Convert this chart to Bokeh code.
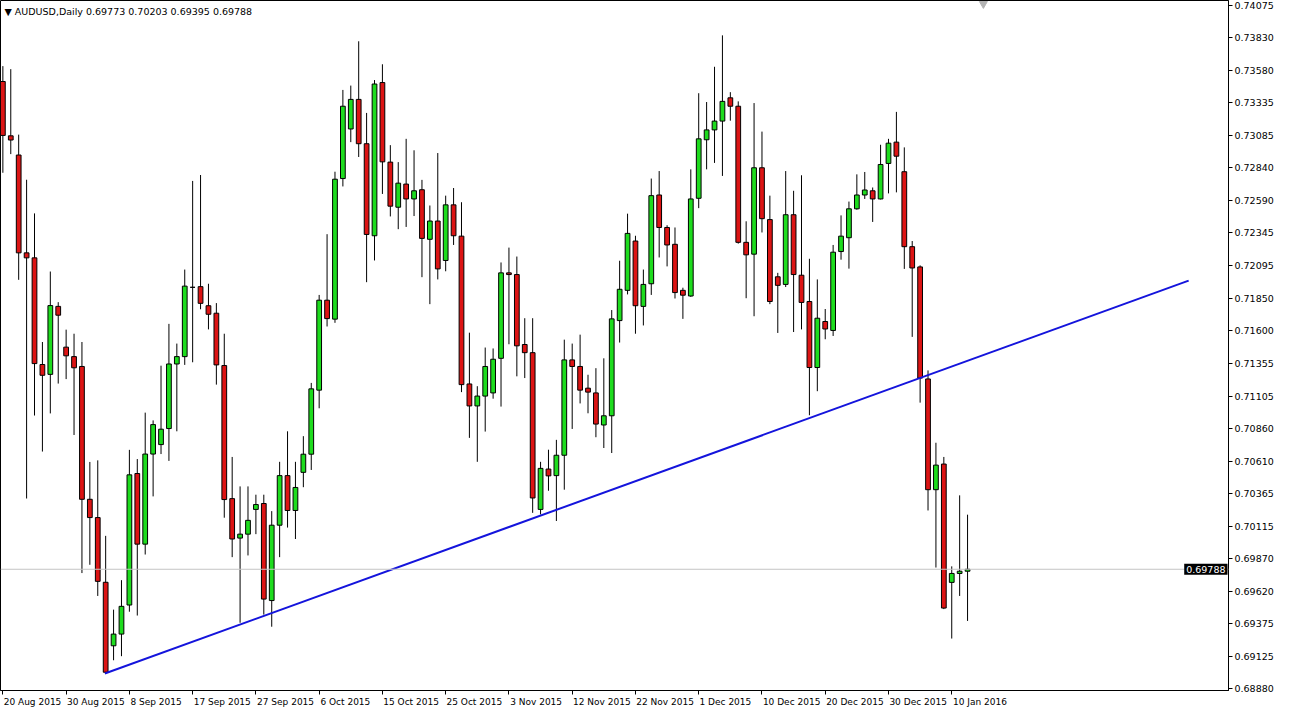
from bokeh.plotting import figure
from bokeh.models import (ColumnDataSource, FixedTicker, Span, Label, LinearAxis,
                          Range1d, NumeralTickFormatter)
from bokeh.embed import file_html
from bokeh.resources import INLINE

# ---------------- data (AUDUSD daily) ----------------
opens = [0.73497, 0.73084, 0.72938, 0.72194, 0.72156, 0.71345, 0.71270, 0.71787, 0.71477, 0.71405,
         0.71330, 0.70320, 0.70181, 0.69689, 0.69206, 0.69295, 0.69516, 0.70516, 0.69979, 0.70664,
         0.70736, 0.70858, 0.71349, 0.71405, 0.71932, 0.71937, 0.71792, 0.71735, 0.71337, 0.70325,
         0.70025, 0.70055, 0.70243, 0.70288, 0.69550, 0.70123, 0.70500, 0.70235, 0.70525, 0.70663,
         0.71150, 0.71834, 0.71690, 0.72759, 0.73136, 0.73361, 0.73024, 0.72324, 0.73489, 0.72884,
         0.72541, 0.72717, 0.72604, 0.72674, 0.72297, 0.72436, 0.72136, 0.72559, 0.72321, 0.71197,
         0.71030, 0.71105, 0.71129, 0.71392, 0.72042, 0.72029, 0.71497, 0.71435, 0.70243, 0.70550,
         0.70500, 0.70655, 0.71380, 0.71330, 0.71165, 0.71129, 0.70885, 0.70955, 0.71679, 0.71909,
         0.72284, 0.71787, 0.71959, 0.72634, 0.72387, 0.72259, 0.71909, 0.71866, 0.72609, 0.73054,
         0.73129, 0.73196, 0.73373, 0.73309, 0.72274, 0.72184, 0.72841, 0.72447, 0.72012, 0.71954,
         0.72484, 0.72024, 0.71824, 0.71322, 0.71672, 0.71604, 0.72204, 0.72309, 0.72529, 0.72634,
         0.72666, 0.72604, 0.72874, 0.73036, 0.72811, 0.72241, 0.72087, 0.71235, 0.70393, 0.70588,
         0.69688, 0.69756, 0.69773]
highs = [0.73614, 0.73591, 0.73093, 0.72750, 0.72494, 0.71516, 0.72052, 0.71819, 0.71610, 0.71579,
         0.71516, 0.70604, 0.70616, 0.70042, 0.69481, 0.69705, 0.70696, 0.70626, 0.70979, 0.70920,
         0.71336, 0.71654, 0.71504, 0.72067, 0.72741, 0.72786, 0.71959, 0.71812, 0.71579, 0.70642,
         0.70418, 0.70418, 0.70355, 0.70355, 0.70230, 0.70605, 0.70837, 0.70605, 0.70800, 0.71205,
         0.71874, 0.72336, 0.72811, 0.73433, 0.73466, 0.73803, 0.73258, 0.73508, 0.73628, 0.73013,
         0.72884, 0.73061, 0.72974, 0.72749, 0.72554, 0.72953, 0.72629, 0.72687, 0.72579, 0.71587,
         0.71180, 0.71474, 0.71467, 0.72121, 0.72234, 0.72166, 0.71697, 0.71697, 0.70605, 0.70697,
         0.70772, 0.71534, 0.71504, 0.71572, 0.71267, 0.71317, 0.71392, 0.71759, 0.72134, 0.72492,
         0.72324, 0.72067, 0.72759, 0.72816, 0.72404, 0.72387, 0.71929, 0.72829, 0.73408, 0.73341,
         0.73609, 0.73848, 0.73416, 0.73346, 0.72434, 0.73333, 0.73116, 0.72629, 0.72042, 0.72816,
         0.72666, 0.72784, 0.72149, 0.71992, 0.71767, 0.72254, 0.72479, 0.72584, 0.72791, 0.72809,
         0.72691, 0.73016, 0.73061, 0.73266, 0.72996, 0.72284, 0.72099, 0.71300, 0.70750, 0.70642,
         0.69810, 0.70350, 0.70203]
lows = [0.72803, 0.72945, 0.71989, 0.70326, 0.70957, 0.70683, 0.70973, 0.71200, 0.71234, 0.70809,
        0.69759, 0.69822, 0.69585, 0.68995, 0.69096, 0.69127, 0.69465, 0.69436, 0.69900, 0.70342,
        0.70664, 0.70612, 0.70837, 0.71342, 0.71362, 0.71765, 0.71612, 0.71192, 0.70180, 0.69880,
        0.69381, 0.69893, 0.70055, 0.69443, 0.69351, 0.69880, 0.70105, 0.70018, 0.70412, 0.70543,
        0.71012, 0.71634, 0.71662, 0.72699, 0.73036, 0.72923, 0.71971, 0.72136, 0.72642, 0.72471,
        0.72374, 0.72391, 0.72474, 0.72009, 0.71804, 0.71992, 0.72054, 0.72254, 0.71135, 0.70787,
        0.70605, 0.70835, 0.71085, 0.71025, 0.71499, 0.71255, 0.71242, 0.70217, 0.70205, 0.70385,
        0.70155, 0.70393, 0.70855, 0.71049, 0.70974, 0.70792, 0.70710, 0.70672, 0.71512, 0.71878,
        0.71579, 0.71642, 0.71874, 0.72159, 0.72091, 0.71847, 0.71692, 0.71859, 0.72534, 0.72829,
        0.72878, 0.72779, 0.73199, 0.72264, 0.71849, 0.71712, 0.72349, 0.71804, 0.71585, 0.71934,
        0.71592, 0.71612, 0.70959, 0.71142, 0.71537, 0.71562, 0.72142, 0.72074, 0.72522, 0.72604,
        0.72429, 0.72600, 0.72646, 0.72654, 0.72072, 0.71555, 0.71055, 0.70235, 0.69801, 0.69485,
        0.69261, 0.69585, 0.69395]
closes = [0.73087, 0.73052, 0.72194, 0.72156, 0.71352, 0.71263, 0.71793, 0.71720, 0.71411, 0.71320,
          0.70320, 0.70181, 0.69696, 0.69005, 0.69295, 0.69506, 0.70506, 0.69979, 0.70664, 0.70888,
          0.70853, 0.71349, 0.71405, 0.71941, 0.71932, 0.71810, 0.71727, 0.71342, 0.70318, 0.70018,
          0.70055, 0.70160, 0.70280, 0.69561, 0.70123, 0.70500, 0.70235, 0.70410, 0.70663, 0.71160,
          0.71834, 0.71694, 0.72754, 0.73309, 0.73361, 0.73024, 0.72334, 0.73478, 0.72886, 0.72549,
          0.72724, 0.72604, 0.72666, 0.72304, 0.72436, 0.72072, 0.72559, 0.72324, 0.71192, 0.71030,
          0.71105, 0.71330, 0.71385, 0.72042, 0.72029, 0.71487, 0.71435, 0.70330, 0.70555, 0.70498,
          0.70655, 0.71380, 0.71330, 0.71150, 0.71135, 0.70892, 0.70955, 0.71692, 0.71917, 0.72342,
          0.71792, 0.71954, 0.72629, 0.72387, 0.72254, 0.71892, 0.71872, 0.72604, 0.73061, 0.73129,
          0.73196, 0.73346, 0.73309, 0.72274, 0.72179, 0.72841, 0.72454, 0.71824, 0.71947, 0.72484,
          0.72029, 0.71817, 0.71322, 0.71697, 0.71615, 0.72199, 0.72321, 0.72529, 0.72634, 0.72672,
          0.72604, 0.72866, 0.73028, 0.72929, 0.72241, 0.72079, 0.71242, 0.70393, 0.70580, 0.69493,
          0.69756, 0.69773, 0.69788]

# date axis: bar index of each labelled day and its label
tick_idx = [0, 8, 16, 24, 32, 40, 48, 56, 64, 72, 80, 88, 96, 104, 112, 120]
tick_labels = ["20 Aug 2015", "30 Aug 2015", "8 Sep 2015", "17 Sep 2015", "27 Sep 2015",
               "6 Oct 2015", "15 Oct 2015", "25 Oct 2015", "3 Nov 2015", "12 Nov 2015",
               "22 Nov 2015", "1 Dec 2015", "10 Dec 2015", "20 Dec 2015", "30 Dec 2015",
               "10 Jan 2016"]
price_ticks = [0.68880, 0.69125, 0.69375, 0.69620, 0.69870, 0.70115, 0.70365, 0.70610,
               0.70860, 0.71105, 0.71355, 0.71600, 0.71850, 0.72095, 0.72345, 0.72590,
               0.72840, 0.73085, 0.73335, 0.73580, 0.73830, 0.74075]

# trend line (bar index, price) and current bid
trend_x = [12.9, 149.96]
trend_y = [0.68995, 0.71983]
last_price = 0.69788
shift_marker_idx = 124

symbol_text = "AUDUSD,Daily"

# ---------------- figure ----------------
FONT = "DejaVu Sans"
FS_PX = 9.5
FS = f"{FS_PX}px"
XFS_PX = 9.0
XFS = f"{XFS_PX}px"
Y0, Y1 = 0.68866, 0.74113
X0, X1 = -0.3, 155.0
W, H = 1276, 710
AXIS_W = 50
FRAME_W = W - AXIS_W
FRAME_H = 690

p = figure(width=W, height=H, output_backend="svg", toolbar_location=None, tools="",
           x_range=Range1d(X0, X1), y_range=Range1d(Y0, Y1), y_axis_location="right",
           min_border_left=0, min_border_top=0, min_border_right=0, min_border_bottom=H - FRAME_H)
p.background_fill_color = "white"
p.border_fill_color = "white"
p.outline_line_color = "black"
p.outline_line_width = 1
p.xgrid.visible = False
p.ygrid.visible = False

n = len(opens)
xs = list(range(n))
up = [c >= o for o, c in zip(opens, closes)]
src = ColumnDataSource(dict(
    x=xs, o=opens, h=highs, l=lows, c=closes,
    top=[max(o, c) for o, c in zip(opens, closes)],
    bot=[min(o, c) for o, c in zip(opens, closes)],
    fill=["#1edc1e" if u else "#dc1414" for u in up],
))

p.segment(x0="x", y0="l", x1="x", y1="h", source=src, line_color="black", line_width=1)
p.vbar(x="x", width=0.6, top="top", bottom="bot", source=src,
       fill_color="fill", line_color="black", line_width=1)

# current price line
p.add_layout(Span(location=last_price, dimension="width", line_color="#c4c4c4", line_width=1))

# trend line
p.line(trend_x, trend_y, line_color="#1414dc", line_width=2)

# chart shift marker
p.scatter([shift_marker_idx], [Y1 - 0.00025], marker="inverted_triangle", size=8,
          fill_color="#b4b4b4", line_color="#b4b4b4")

# y axis (right)
ya = p.yaxis[0]
ya.ticker = FixedTicker(ticks=price_ticks)
ya.formatter = NumeralTickFormatter(format="0.00000")
ya.axis_line_color = "black"
ya.major_tick_line_color = "black"
ya.major_tick_out = 4
ya.major_tick_in = 0
ya.minor_tick_line_color = None
ya.major_label_standoff = 2
ya.major_label_text_font = FONT
ya.major_label_text_font_size = FS
ya.major_label_text_color = "black"

# x axis 1: tick marks at the labelled days (labels empty)
xa = p.xaxis[0]
xa.ticker = FixedTicker(ticks=tick_idx)
xa.major_label_overrides = {t: "" for t in tick_idx}
xa.major_label_text_font_size = "1px"
xa.major_label_standoff = 0
xa.axis_line_color = "black"
xa.major_tick_line_color = "black"
xa.major_tick_out = 4
xa.major_tick_in = 0
xa.minor_tick_line_color = None

# x axis 2: the date texts, which start at their tick as in the terminal
EM = {" ": 0.318, "A": 0.684, "u": 0.634, "g": 0.635, "S": 0.635, "e": 0.615, "p": 0.635,
      "O": 0.787, "c": 0.550, "t": 0.392, "N": 0.748, "o": 0.612, "v": 0.592, "D": 0.770,
      "J": 0.295, "a": 0.613, "n": 0.634}
px_per_bar = FRAME_W / (X1 - X0)
label_pos = []
for t, s in zip(tick_idx, tick_labels):
    w = sum(EM.get(ch, 0.636) for ch in s) * XFS_PX
    off = (w / 2 + 1) / px_per_bar
    label_pos.append(t + round(off * 16) / 16)
xa2 = LinearAxis(ticker=FixedTicker(ticks=label_pos),
                 major_label_overrides=dict(zip(label_pos, tick_labels)))
xa2.axis_line_color = None
xa2.major_tick_line_color = None
xa2.minor_tick_line_color = None
xa2.major_tick_out = 0
xa2.major_tick_in = 0
xa2.major_label_standoff = 2
xa2.major_label_text_font = FONT
xa2.major_label_text_font_size = XFS
xa2.major_label_text_color = "black"
p.add_layout(xa2, "below")

# title in the corner
px_per_price = FRAME_H / (Y1 - Y0)
last_vals = " ".join(f"{v:.5f}" for v in (opens[-1], highs[-1], lows[-1], closes[-1]))
p.add_layout(Label(x=X0, y=Y1 - 11 / px_per_price, x_offset=4,
                   text="\u25bc " + symbol_text + "  " + last_vals,
                   text_align="left", text_baseline="middle", text_font=FONT,
                   text_font_size=FS, text_color="black"))

# current price box, at the price scale edge
p.add_layout(Label(x=X1, y=last_price, x_offset=-1, text=f"{last_price:.5f}",
                   text_align="right", text_baseline="middle", text_font=FONT,
                   text_font_size=FS, text_color="white",
                   background_fill_color="black", padding=2))

open("out.html", "w").write(file_html(p, INLINE))
